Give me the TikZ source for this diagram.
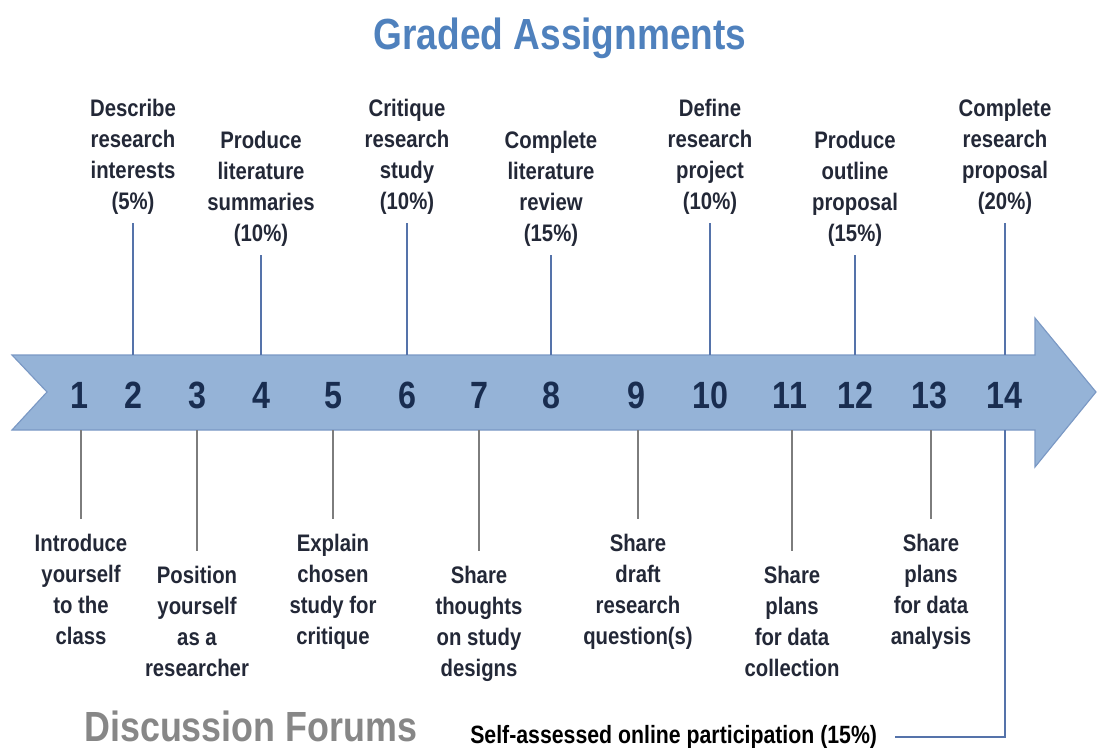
\documentclass[tikz,border=0pt]{standalone}
\usepackage{fontspec}
\setmainfont{Liberation Sans}[FakeStretch=0.85]
\usepackage{xcolor}
\usetikzlibrary{positioning}
\definecolor{TitleBlue}{RGB}{79,129,189}
\definecolor{ArrowFill}{RGB}{149,179,215}
\definecolor{ArrowEdge}{RGB}{122,152,196}
\definecolor{NumNavy}{RGB}{25,45,80}
\definecolor{LabelInk}{RGB}{35,40,55}
\definecolor{UpLine}{RGB}{85,115,170}
\definecolor{DownLine}{RGB}{125,125,125}
\definecolor{ForumGray}{RGB}{135,135,135}
\tikzset{
  % Testi delle attivita
  task up/.style={font=\fontsize{17}{22}\selectfont\bfseries,text=LabelInk,align=center,anchor=north,inner sep=0},
  task down/.style={task up},
  week num/.style={font=\fontsize{27}{27}\selectfont\bfseries,text=NumNavy,anchor=base,inner sep=0},
  % Collegamenti
  link up/.style={UpLine,line width=1.4pt,shorten <=6pt},
  link down/.style={DownLine,line width=1.8pt,shorten >=11pt},
  % Freccia
  timeline/.style={fill=ArrowFill,draw=ArrowEdge,line width=0.8pt,line join=miter}
}
\begin{document}
\begin{tikzpicture}[x=0.025cm,y=-0.025cm]
  \useasboundingbox (0,0) rectangle (1097,748);
  % titolo
  \node[font=\fontsize{31}{31}\selectfont\bfseries,text=TitleBlue,anchor=base,inner sep=0] (title) at (560,50) {Graded Assignments};
  % freccia
  \draw[timeline] (12,355) -- (1035,355) -- (1035,318) -- (1096,392) -- (1035,467)
    -- (1035,430) -- (12,430) -- (47,392) -- cycle;
  \coordinate (top) at (0,355);
  \coordinate (bot) at (0,430);
  % settimane
  \foreach \n/\x in {1/79,2/133,3/197,4/261,5/333,6/407,7/479,8/551,9/636,10/710,11/790,12/855,13/929,14/1004}
    \node[week num] (n\n) at (\x,408) {\n};
  % compiti valutati
  \foreach \i/\x/\t/\txt in {2/133/99/{Describe\\research\\interests\\(5\%)},
      4/261/131/{Produce\\literature\\summaries\\(10\%)},
      6/407/99/{Critique\\research\\study\\(10\%)},
      8/551/131/{Complete\\literature\\review\\(15\%)},
      10/710/99/{Define\\research\\project\\(10\%)},
      12/855/131/{Produce\\outline\\proposal\\(15\%)},
      14/1005/99/{Complete\\research\\proposal\\(20\%)}}{
    \node[task up] (u\i) at (\x,\t) {\txt};
    \draw[link up] (u\i.south) -- (u\i.south |- top);
  }
  % forum di discussione
  \foreach \i/\x/\t/\txt in {1/81/534/{Introduce\\yourself\\to the\\class},
      3/197/566/{Position\\yourself\\as a\\researcher},
      5/333/534/{Explain\\chosen\\study for\\critique},
      7/479/566/{Share\\thoughts\\on study\\designs},
      9/638/534/{Share\\draft\\research\\question(s)},
      11/792/566/{Share\\plans\\for data\\collection},
      13/931/534/{Share\\plans\\for data\\analysis}}{
    \node[task down] (d\i) at (\x,\t) {\txt};
    \draw[link down] (d\i.north |- bot) -- (d\i.north);
  }
  \node[font=\fontsize{30}{30}\selectfont\bfseries,text=ForumGray,anchor=base west,inner sep=0] (forums) at (84,741) {Discussion Forums};
  \node[font=\fontsize{17.8}{20}\selectfont\bfseries,text=black,anchor=base west,inner sep=0] (self) at (470,743) {Self-assessed online participation (15\%)};
  \draw[link up,shorten <=0pt,shorten >=0.45cm] (u14.south |- bot) |- (self.east);
\end{tikzpicture}
\end{document}
